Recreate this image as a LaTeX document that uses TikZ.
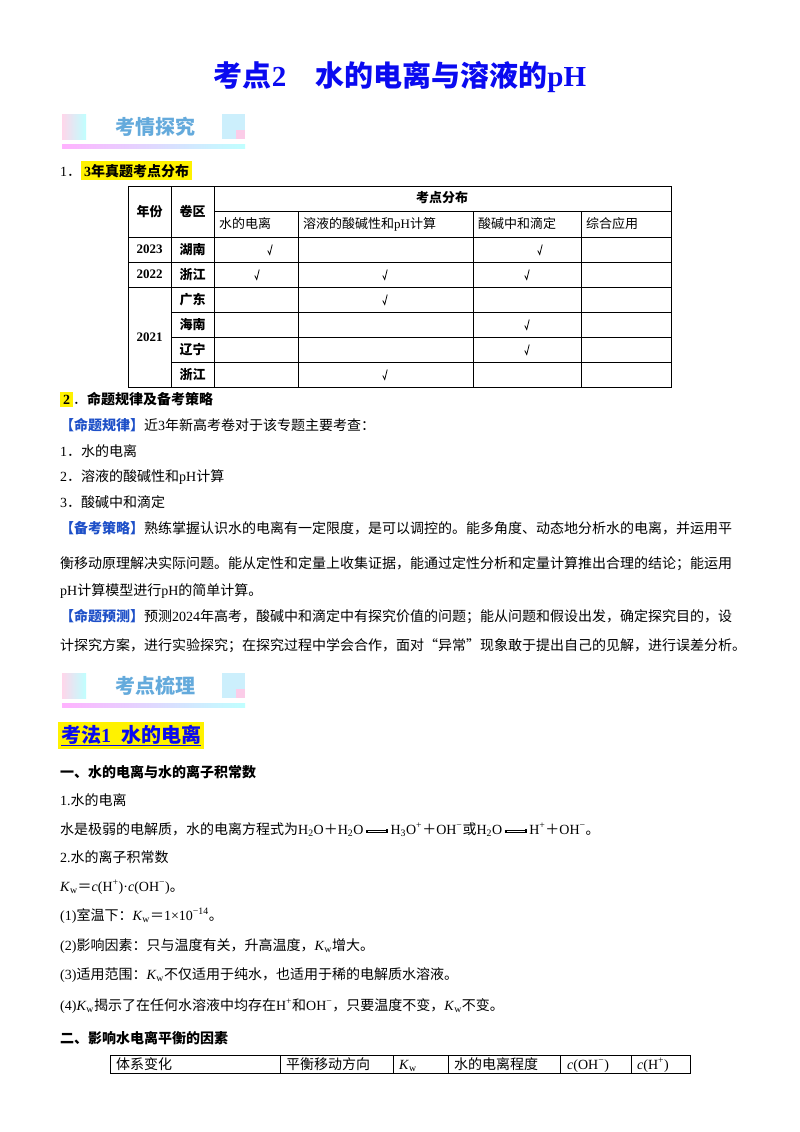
\documentclass[tikz,border=0pt]{standalone}
\usepackage{fontspec}
\setmainfont{Liberation Serif}
\newfontfamily\cjk{Noto Sans CJK SC}
\newXeTeXintercharclass\cjkclass
\count255="4E00 \loop \XeTeXcharclass\count255=\cjkclass \ifnum\count255<"9FFF \advance\count255 1 \repeat
\count255="3000 \loop \XeTeXcharclass\count255=\cjkclass \ifnum\count255<"303F \advance\count255 1 \repeat
\count255="FF00 \loop \XeTeXcharclass\count255=\cjkclass \ifnum\count255<"FFEF \advance\count255 1 \repeat
\XeTeXcharclass"201C=\cjkclass
\XeTeXcharclass"201D=\cjkclass
\XeTeXinterchartoks 0 \cjkclass = {\begingroup\cjk}
\XeTeXinterchartoks 4095 \cjkclass = {\begingroup\cjk}
\XeTeXinterchartoks \cjkclass 0 = {\endgroup}
\XeTeXinterchartoks \cjkclass 4095 = {\endgroup}
\XeTeXinterchartokenstate=1
\usetikzlibrary{shadings}
\definecolor{ttl}{RGB}{10,10,240}
\definecolor{lab}{RGB}{30,80,200}
\definecolor{bantext}{RGB}{100,170,220}
\newcommand{\eqarr}{\,\raisebox{0.3ex}{\tikz[x=1pt,y=1pt,baseline=0pt]{\draw[line width=0.5pt](0,2.2)--(22,2.2)(0,0)--(22,0);\fill(0,-0.5) rectangle (2,2.5);\fill(20,-0.3) rectangle (22,3.4);}}\,}
\newcommand{\ck}{\tikz[x=1pt,y=1pt,baseline=0pt]{\draw[line width=0.8pt](0,4)--(2,0)--(4.5,10);}}
\tikzset{
 txt/.style={anchor=base west,inner sep=0pt,font=\fontsize{14}{16}\selectfont},
 cell/.style={inner sep=0pt,font=\fontsize{13}{15}\selectfont},
 chk/.style={inner sep=0pt}
}
\newcommand{\banner}[3]{%
 \shade[left color=pink!80!magenta!40,right color=cyan!25] (62,#1-13) rectangle (86,#1+12);
 \fill[cyan!20] (222,#1-13) rectangle (245,#1+12);
 \fill[magenta!20] (236,#1+3) rectangle (245,#1+12);
 \shade[left color=magenta!30,right color=cyan!25] (62,#1+17) rectangle (245,#1+21);
 \node[inner sep=0pt,font=\fontsize{20}{22}\bfseries\selectfont,text=bantext] (#3) at (155,#1) {#2};}
\begin{document}
\begin{tikzpicture}[x=1pt,y=-1pt]
\useasboundingbox[fill=white] (0,0) rectangle (800,1132);
\node[inner sep=0pt,font=\fontsize{29}{31}\bfseries\selectfont,text=ttl] (title) at (400,77) {考点2\quad 水的电离与溶液的pH};
\banner{127}{考情探究}{b1}
\node[txt] (s1) at (60,176) {1．\colorbox{yellow}{\bfseries 3年真题考点分布}};
% table 1
\draw[line width=0.6pt] (128,186) rectangle (671,387);
\foreach \y in {237,262,287} \draw (128,\y)--(671,\y);
\foreach \y in {312,337,362} \draw (171,\y)--(671,\y);
\draw (214,211)--(671,211);
\draw (171,186)--(171,387) (214,186)--(214,387);
\foreach \x in {298,473,581} \draw (\x,211)--(\x,387);
\node[cell,font=\fontsize{13}{15}\bfseries\selectfont] (h1) at (149.5,211.5) {年份};
\node[cell,font=\fontsize{13}{15}\bfseries\selectfont] (h2) at (192.5,211.5) {卷区};
\node[cell,font=\fontsize{13}{15}\bfseries\selectfont] (h3) at (442,198) {考点分布};
\node[cell,anchor=west] (c1) at (219,224) {水的电离};
\node[cell,anchor=west] (c2) at (303,224) {溶液的酸碱性和pH计算};
\node[cell,anchor=west] (c3) at (478,224) {酸碱中和滴定};
\node[cell,anchor=west] (c4) at (586,224) {综合应用};
\begin{scope}[every node/.style={cell,font=\fontsize{13}{15}\bfseries\selectfont}]
\node (y1) at (149.5,249.5) {2023};
\node (y2) at (149.5,274.5) {2022};
\node (y3) at (149.5,337) {2021};
\node (r1) at (192.5,249.5) {湖南};
\node (r2) at (192.5,274.5) {浙江};
\node (r3) at (192.5,299.5) {广东};
\node (r4) at (192.5,324.5) {海南};
\node (r5) at (192.5,349.5) {辽宁};
\node (r6) at (192.5,374.5) {浙江};
\end{scope}
\foreach \x/\y [count=\i] in {270/249.5,540/249.5,257/274.5,385/274.5,527/274.5,385/299.5,527/324.5,527/349.5,385/374.5}
 \node[chk] (k\i) at (\x,\y) {\ck};
\node[txt] (s2) at (60,404) {\colorbox{yellow}{\bfseries 2}．\bfseries 命题规律及备考策略};
\node[txt] (p1) at (60,430) {\textcolor{lab}{\bfseries【命题规律】}近3年新高考卷对于该专题主要考查：};
\node[txt] (p2) at (60,456) {1．水的电离};
\node[txt] (p3) at (60,481) {2．溶液的酸碱性和pH计算};
\node[txt] (p4) at (60,507) {3．酸碱中和滴定};
\node[txt] (p5) at (60,533) {\textcolor{lab}{\bfseries【备考策略】}熟练掌握认识水的电离有一定限度，是可以调控的。能多角度、动态地分析水的电离，并运用平};
\node[txt] (p6) at (60,568) {衡移动原理解决实际问题。能从定性和定量上收集证据，能通过定性分析和定量计算推出合理的结论；能运用};
\node[txt] (p7) at (60,595) {pH计算模型进行pH的简单计算。};
\node[txt] (p8) at (60,621) {\textcolor{lab}{\bfseries【命题预测】}预测2024年高考，酸碱中和滴定中有探究价值的问题；能从问题和假设出发，确定探究目的，设};
\node[txt] (p9) at (60,650) {计探究方案，进行实验探究；在探究过程中学会合作，面对“异常”现象敢于提出自己的见解，进行误差分析。};
\banner{686}{考点梳理}{b2}
\node[txt,font=\fontsize{20}{22}\bfseries\selectfont] (k1) at (58,742) {\colorbox{yellow}{\textcolor{ttl}{\underline{考法1\ \ 水的电离}}}};
\node[txt,font=\fontsize{14}{16}\bfseries\selectfont] (q1) at (60,777) {一、水的电离与水的离子积常数};
\node[txt] (q2) at (60,805) {1.水的电离};
\node[txt] (q3) at (60,834) {水是极弱的电解质，水的电离方程式为H\textsubscript{2}O＋H\textsubscript{2}O\eqarr H\textsubscript{3}O\textsuperscript{+}＋OH\textsuperscript{−}或H\textsubscript{2}O\eqarr H\textsuperscript{+}＋OH\textsuperscript{−}。};
\node[txt] (q4) at (60,862) {2.水的离子积常数};
\node[txt] (q5) at (60,891) {\textit{K}\textsubscript{w}＝\textit{c}(H\textsuperscript{+})·\textit{c}(OH\textsuperscript{−})。};
\node[txt] (q6) at (60,920) {(1)室温下：\textit{K}\textsubscript{w}＝1×10\textsuperscript{−14}。};
\node[txt] (q7) at (60,950) {(2)影响因素：只与温度有关，升高温度，\textit{K}\textsubscript{w}增大。};
\node[txt] (q8) at (60,979) {(3)适用范围：\textit{K}\textsubscript{w}不仅适用于纯水，也适用于稀的电解质水溶液。};
\node[txt] (q9) at (60,1010) {(4)\textit{K}\textsubscript{w}揭示了在任何水溶液中均存在H\textsuperscript{+}和OH\textsuperscript{−}，只要温度不变，\textit{K}\textsubscript{w}不变。};
\node[txt,font=\fontsize{14}{16}\bfseries\selectfont] (q10) at (60,1043) {二、影响水电离平衡的因素};
\draw[line width=0.6pt] (110,1055) rectangle (690,1073);
\foreach \x in {280,393,448,560,631} \draw (\x,1055)--(\x,1073);
\node[txt] (t1) at (116,1069) {体系变化};
\node[txt] (t2) at (286,1069) {平衡移动方向};
\node[txt] (t3) at (399,1069) {\textit{K}\textsubscript{w}};
\node[txt] (t4) at (454,1069) {水的电离程度};
\node[txt] (t5) at (567,1069) {\textit{c}(OH\textsuperscript{−})};
\node[txt] (t6) at (637,1069) {\textit{c}(H\textsuperscript{+})};
\end{tikzpicture}
\end{document}
